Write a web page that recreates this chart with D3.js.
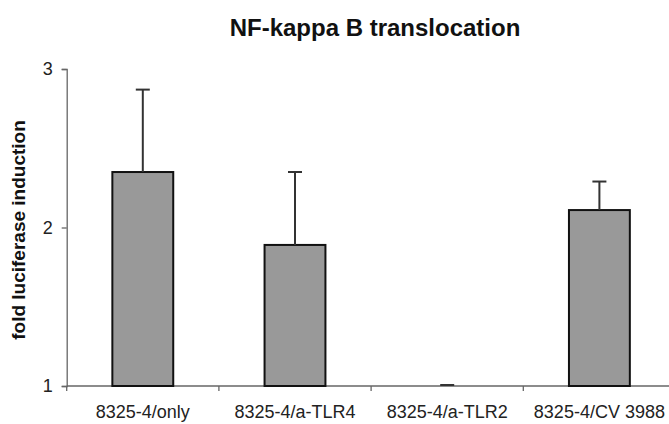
<!DOCTYPE html>
<html>
<head>
<meta charset="utf-8">
<script src="https://cdn.jsdelivr.net/npm/d3@7"></script>
<style>
  html, body { margin: 0; padding: 0; background: #fff; }
  svg { display: block; }
  text { font-family: "Liberation Sans", Arial, sans-serif; }
</style>
</head>
<body>
<svg id="chart" width="669" height="424"></svg>
<script>
const categories = ["8325-4/only", "8325-4/a-TLR4", "8325-4/a-TLR2", "8325-4/CV 3988"];
const values = [2.35, 1.89, 1.0, 2.11];
const errors = [0.52, 0.46, 0.0, 0.18];
const yTicks = [1, 2, 3];
const titleText = "NF-kappa B translocation";
const yLabel = "fold luciferase induction";

const svg = d3.select("#chart");
const x0 = 66.7, step = 152.2;
const x = d3.scaleBand()
  .domain(categories)
  .range([x0, x0 + step * categories.length])
  .paddingInner(0.6)
  .paddingOuter(0.3);
const y = d3.scaleLinear().domain([1, 3]).range([386, 69]);

const axisColor = "#666";

// title
svg.append("text")
  .attr("x", 375).attr("y", 36)
  .attr("text-anchor", "middle")
  .attr("font-weight", "bold")
  .attr("font-size", 24)
  .attr("fill", "#111")
  .text(titleText);

// y axis label
svg.append("text")
  .attr("transform", `translate(25,230) rotate(-90)`)
  .attr("text-anchor", "middle")
  .attr("font-weight", "bold")
  .attr("font-size", 19)
  .attr("fill", "#111")
  .text(yLabel);

// y axis
const yAxis = svg.append("g")
  .attr("transform", `translate(${x0},0)`)
  .call(d3.axisLeft(y).tickValues(yTicks).tickFormat(d3.format("d")).tickSize(5).tickPadding(9));
yAxis.select(".domain").attr("stroke", axisColor).attr("stroke-width", 1.3);
yAxis.selectAll(".tick line").attr("stroke", axisColor).attr("stroke-width", 1.3);
yAxis.selectAll(".tick text").attr("font-size", 18).attr("fill", "#222")
  .style("font-family", "'Liberation Sans', Arial, sans-serif");

// x axis line
const xAxisG = svg.append("g").attr("transform", `translate(0,${y(1)})`);
xAxisG.append("line")
  .attr("x1", x0).attr("x2", x0 + step * categories.length)
  .attr("stroke", axisColor).attr("stroke-width", 1.3);
const bounds = d3.range(categories.length + 1).map(i => x0 + i * step);
xAxisG.selectAll("line.bt").data(bounds).join("line")
  .attr("class", "bt")
  .attr("x1", d => d).attr("x2", d => d)
  .attr("y1", 0).attr("y2", 5)
  .attr("stroke", axisColor).attr("stroke-width", 1.3);
xAxisG.selectAll("text.cl").data(categories).join("text")
  .attr("class", "cl")
  .attr("x", d => x(d) + x.bandwidth() / 2)
  .attr("y", 32)
  .attr("text-anchor", "middle")
  .attr("font-size", 18)
  .attr("fill", "#222")
  .text(d => d);

// bars
const data = categories.map((c, i) => ({ c, v: values[i], e: errors[i] }));
svg.selectAll("rect.bar").data(data.filter(d => d.v > 1)).join("rect")
  .attr("class", "bar")
  .attr("x", d => x(d.c))
  .attr("y", d => y(d.v))
  .attr("width", x.bandwidth())
  .attr("height", d => y(1) - y(d.v))
  .attr("fill", "#999999")
  .attr("stroke", "#111")
  .attr("stroke-width", 2);

// error bars
const eb = svg.selectAll("g.err").data(data).join("g").attr("class", "err");
eb.filter(d => d.e > 0).append("line")
  .attr("x1", d => x(d.c) + x.bandwidth() / 2)
  .attr("x2", d => x(d.c) + x.bandwidth() / 2)
  .attr("y1", d => y(d.v))
  .attr("y2", d => y(d.v + d.e))
  .attr("stroke", "#333").attr("stroke-width", 2);
eb.append("line")
  .attr("x1", d => x(d.c) + x.bandwidth() / 2 - 7)
  .attr("x2", d => x(d.c) + x.bandwidth() / 2 + 7)
  .attr("y1", d => y(d.v + d.e) - (d.e > 0 ? 0 : 1))
  .attr("y2", d => y(d.v + d.e) - (d.e > 0 ? 0 : 1))
  .attr("stroke", "#333").attr("stroke-width", 2);
</script>
</body>
</html>
